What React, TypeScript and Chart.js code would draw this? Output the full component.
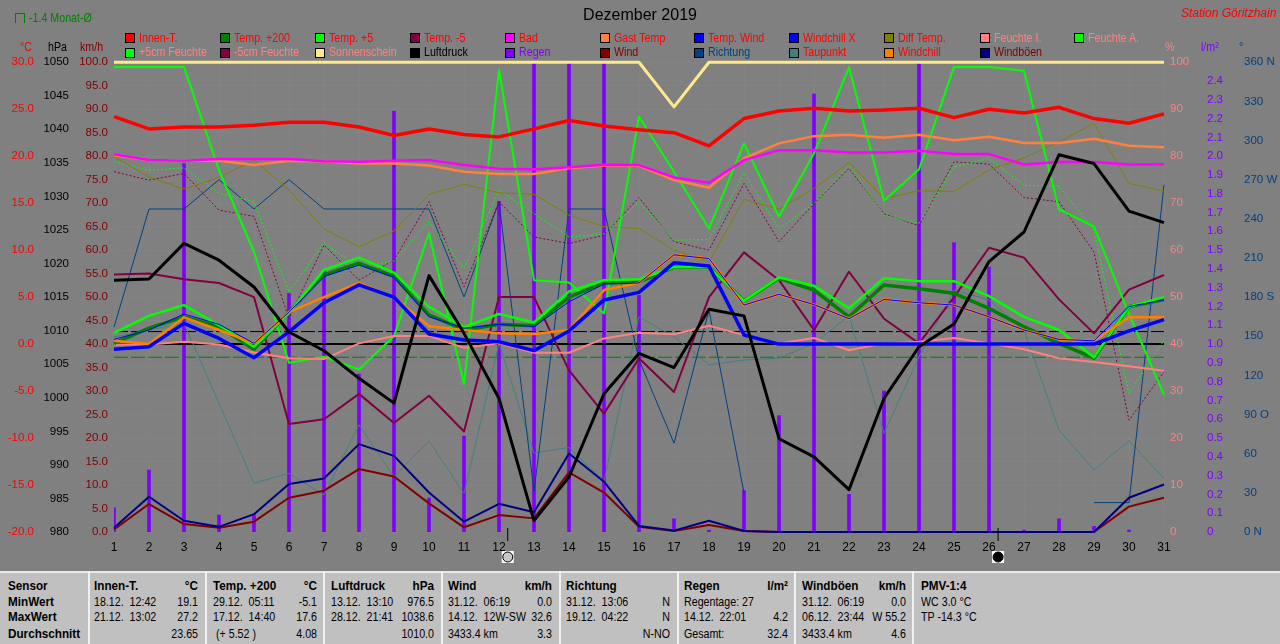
import React, { useEffect, useRef } from "react";
import { Chart, registerables } from "chart.js";

Chart.register(...registerables);

const FONT = '"Liberation Sans", Arial, sans-serif';

const days = ["1","2","3","4","5","6","7","8","9","10","11","12","13","14","15","16","17","18","19","20","21","22","23","24","25","26","27","28","29","30","31"];

const innenT = [24.2,22.9,23.1,23.1,23.3,23.6,23.6,23.1,22.2,22.9,22.3,22.05,22.9,23.8,23.2,22.8,22.5,21.1,24.0,24.8,25.1,24.8,24.9,25.1,24.1,25.0,24.6,25.2,24.0,23.5,24.5];
const temp200 = [0.08,1.7,2.9,1.85,-0.56,3.4,7.35,8.6,7.2,3.1,1.5,2.1,1.95,5.0,6.5,6.6,8.2,8.2,4.6,7,5.75,2.9,6.3,5.9,5.4,3.8,1.85,0.08,-1.5,4,4.75];
const temp5 = [1.2,3,4.15,2,-0.28,3.3,7.9,9.2,7.6,3.97,1.8,3.2,2.3,5.6,6.8,6.9,8.2,8.2,4.6,7.1,6.2,3.8,7,6.7,6.7,5.1,2.9,1.5,-1.4,4,5];
const tempM5 = [7.4,7.5,6.9,6.5,5,-8.5,-8,-5.3,-8.4,-5.5,-9.3,5,5,-2.8,-7.4,-1.5,-5.1,5,9.76,6.8,1.5,7.7,2.7,0.08,5,10.25,9.2,4.76,1.14,5.8,7.35];
const bad = [20.19,19.58,19.5,19.7,19.7,19.7,19.47,19.4,19.5,19.6,19.05,18.65,18.6,18.83,19.08,19.05,17.74,17.16,19.58,20.64,20.64,20.4,20.4,20.57,20.22,20.22,19.12,19.37,19.37,19.12,19.15];
const gastTemp = [20.1,19.58,19.5,19.5,19.05,19.5,19.47,19.23,19.23,19.0,18.33,18.09,18.09,18.7,19.0,18.97,17.45,16.63,19.76,21.36,22.13,22.27,21.95,22.27,21.7,22.06,21.4,21.4,21.85,21.1,20.96];
const tempWind = [0.5,1.5,3.2,2.1,0.08,3.4,7.2,8.4,7.1,2.9,1.7,2.1,1.85,4.5,6.4,6.5,9.5,9.1,4.15,5.3,4.2,2.7,4.75,4.4,4.15,2.9,1.5,0.5,0.35,4,4.7];
const windchillX = [-0.56,-0.28,2.2,0.6,-1.45,1.3,4.4,6.3,5,1.07,0.43,0.25,-0.7,1.4,4.7,5.5,8.65,8.3,0.96,0,0,0,0,0,0,0,0,0,0,1.4,2.6];
const diffTemp = [19.93,17.8,16.5,17.74,19.58,16.4,12.24,10.36,12.03,15.93,17,16.1,15.93,13.73,12.48,12.31,10,8.76,15.4,14.37,16.57,19.33,15.5,16.31,16.25,18.52,19.82,21.53,23.48,17.1,16.28];
const feuchteI = [39.9,39.9,40.5,39.9,38.2,37,36.8,40.15,41.7,41.7,39.2,40.15,38.15,38.15,41.2,42.4,42.1,43.9,41.9,40.15,41.3,38.7,40.15,40.5,41.3,40.15,38.9,37,36.2,35.3,34.3];
const feuchteA = [99,99,99,77,59.6,36,37.3,34.6,41.7,63.6,31.5,98.4,53.6,53.1,46.5,88.4,76.7,64.6,82.7,67.1,80.6,98.9,70.5,77.2,99,99,98.2,68.7,65,46.4,29.2];
const feuchte5cm = [78.8,77,77.5,72.1,70.3,51.1,61.5,56.4,57.7,66,56.1,72.8,67.8,62.8,63.4,70.3,62.1,62.3,76.4,64.6,69.9,78.1,67.4,65.7,77.7,79.5,73.8,73.6,64.3,29.5,40.8];
const feuchteM5cm = [76.7,74.9,76.3,68.5,67.2,45.5,61.1,53.6,57.9,70.3,52.2,70.3,62.8,61.4,63.2,71.2,61.8,60,74.2,61.8,69.9,77.4,67.7,65.2,78.8,78.3,71.2,70.3,59.6,23.8,34.1];
const sonnenschein = [100,100,100,100,100,100,100,100,100,100,100,100,100,100,100,100,90.5,100,100,100,100,100,100,100,100,100,100,100,100,100,100];
const luftdruck = [1017.5,1017.7,1023.0,1020.5,1016.5,1009.8,1007.0,1002.9,999.2,1018.2,1009.6,999.9,981.7,988.2,1000.6,1006.6,1004.5,1013.2,1012.2,993.9,991.2,986.3,999.9,1007.6,1011.0,1020.3,1024.7,1036.2,1034.9,1027.8,1026.1];
const regen = [0.13,0.33,1.96,0.09,0.09,1.27,1.39,0.84,2.24,0.18,0.51,1.76,2.5,2.5,2.5,1.26,0.07,0.01,0.22,0.62,2.33,0.2,0.75,2.5,1.54,1.41,0.01,0.07,0.03,0.01,0];
const wind = [0.57,5.95,1.7,0.9,2.2,7.3,8.8,13.4,11.8,6.1,1.0,3.6,2.9,12.7,8.4,1.1,0.2,1.5,0.2,0,0,0,0,0,0,0,0,0,0,5.4,7.3];
const richtung = [157,247.5,247.5,270,247.5,270,247.5,247.5,247.5,247.5,180,253,31,247.5,247.5,132,68,170,30,null,null,null,null,null,null,null,null,null,22.5,22.5,266];
const taupunkt = [0.75,1.5,2.2,-6.3,-14.8,-13.75,-16.06,-8.6,-14.1,-10.3,-15.9,0.08,-11.6,-11.0,-14.6,2.9,0.78,-2.2,-1.7,-1.5,0.08,3,-9.5,-1.35,5.75,4.7,1.5,-9.15,-13.4,-10.3,-14.3];
const windchill = [0.35,0,2.85,1.5,0.08,3.4,5,6.5,5,1.9,1.5,1.15,1.07,1.5,5.75,6.5,9.5,9.1,4.15,5.3,4.2,2.7,4.75,4.4,4.15,2.9,1.5,0.5,0.35,2.85,2.85];
const windboeen = [0.9,7.5,2.4,1.1,3.8,10.2,11.4,18.7,16.2,8.4,2.2,6.0,4.2,16.7,10.7,1.3,0.3,2.4,0.2,0,0,0,0,0,0,0,0,0,0,7.3,10.1];

const nullLinie = days.map(() => 0);
const plusLinie = days.map(() => 1.33);
const monatMittel = days.map(() => -1.4);

const moonDays = [{ day: 12.25, full: true }, { day: 26.26, full: false }];

const legendRow1 = [
  ["Innen-T.", "#ff0000", "#ff0000"], ["Temp. +200", "#008000", "#ff0000"], ["Temp. +5", "#00ff00", "#ff0000"],
  ["Temp. -5", "#800040", "#ff0000"], ["Bad", "#ff00ff", "#ff0000"], ["Gast Temp", "#ff8040", "#ff0000"],
  ["Temp. Wind", "#0000ff", "#ff0000"], ["Windchill X", "#0000ff", "#ff0000"], ["Diff Temp.", "#808000", "#ff0000"],
  ["Feuchte I.", "#ff8080", "#ff8080"], ["Feuchte A.", "#00ff00", "#ff8080"],
];
const legendRow2 = [
  ["+5cm Feuchte", "#00ff00", "#ff8080"], ["-5cm Feuchte", "#800040", "#ff8080"], ["Sonnenschein", "#ffe98a", "#ff8080"],
  ["Luftdruck", "#000000", "#000000"], ["Regen", "#8000ff", "#8000ff"], ["Wind", "#800000", "#800000"],
  ["Richtung", "#004080", "#004080"], ["Taupunkt", "#408080", "#ff0000"], ["Windchill", "#ff8000", "#ff0000"],
  ["Windböen", "#000080", "#800000"],
];
const legendX = [125, 220, 315, 410, 505, 600, 694, 789, 884, 980, 1074];

const unitHeads = [
  ["°C", 20, "#ff0000"], ["hPa", 48, "#000000"], ["km/h", 80, "#800000"],
  ["%", 1165, "#ff8080"], ["l/m²", 1201, "#8000ff"], ["°", 1239, "#004080"],
];

const tableSeparators = [88, 205, 323, 441, 559, 677, 794, 912];
const tableRowY = [586, 602, 617, 634];
const tableCols = [
  { left: 8, right: 84, head: ["Sensor", ""], rows: [["MinWert", ""], ["MaxWert", ""], ["Durchschnitt", ""]], boldAll: true },
  { left: 94, right: 198, head: ["Innen-T.", "°C"], rows: [["18.12.  12:42", "19.1"], ["21.12.  13:02", "27.2"], ["", "23.65"]] },
  { left: 213, right: 317, head: ["Temp. +200", "°C"], rows: [["29.12.  05:11", "-5.1"], ["17.12.  14:40", "17.6"], [" (+ 5.52 )", "4.08"]] },
  { left: 331, right: 434, head: ["Luftdruck", "hPa"], rows: [["13.12.  13:10", "976.5"], ["28.12.  21:41", "1038.6"], ["", "1010.0"]] },
  { left: 448, right: 552, head: ["Wind", "km/h"], rows: [["31.12.  06:19", "0.0"], ["14.12.  12W-SW", "32.6"], ["3433.4 km", "3.3"]] },
  { left: 566, right: 670, head: ["Richtung", ""], rows: [["31.12.  13:06", "N"], ["19.12.  04:22", "N"], ["", "N-NO"]] },
  { left: 684, right: 788, head: ["Regen", "l/m²"], rows: [["Regentage: 27", ""], ["14.12.  22:01", "4.2"], ["Gesamt:", "32.4"]] },
  { left: 802, right: 906, head: ["Windböen", "km/h"], rows: [["31.12.  06:19", "0.0"], ["06.12.  23:44", "W 55.2"], ["3433.4 km", "4.6"]] },
  { left: 921, right: 1040, head: ["PMV-1:4", ""], rows: [["WC 3.0 °C", ""], ["TP -14.3 °C", ""], ["", ""]] },
];

const fmt1 = (v: any) => Number(v).toFixed(1);
const dirNames: Record<number, string> = { 360: " N", 270: " W", 180: " S", 90: " O", 0: " N" };

function yAxis(position: string, weight: number, width: number, min: number, max: number, step: number, color: string, cb: (v: any) => string, extra: any = {}) {
  return {
    type: "linear", position, weight, min, max,
    grid: { display: false, drawTicks: false },
    border: { display: false },
    ticks: { stepSize: step, color, autoSkip: false, padding: 6, callback: cb, maxRotation: 0, font: { family: FONT, size: 11.5 } },
    afterFit: (s: any) => { s.width = width; },
    ...extra,
  };
}

const moonPlugin = {
  id: "moons",
  afterDraw(chart: any) {
    const c = chart.ctx, x = chart.scales.x;
    moonDays.forEach((m) => {
      const px = x.getPixelForValue(m.day - 1);
      c.save();
      c.strokeStyle = "#000";
      c.lineWidth = 1;
      c.beginPath(); c.moveTo(px, 528); c.lineTo(px, 541); c.stroke();
      c.fillStyle = "#fff";
      c.fillRect(px - 6, 551, 12, 12);
      c.fillStyle = m.full ? "#c8c8c8" : "#000";
      c.strokeStyle = "#000";
      c.beginPath(); c.arc(px, 557, 5, 0, Math.PI * 2); c.fill(); c.stroke();
      c.restore();
    });
  },
};

const line = (label: string, data: any[], color: string, width: number, yAxisID: string, dash?: number[]) => ({
  type: "line", label, data, borderColor: color, backgroundColor: color, borderWidth: width, yAxisID,
  pointRadius: 0, tension: 0, clip: false, borderDash: dash || [], spanGaps: false,
  borderJoinStyle: "round", borderCapStyle: "butt",
});

export default function App() {
  const ref = useRef<HTMLCanvasElement | null>(null);
  useEffect(() => {
    document.body.style.margin = "0";
    document.body.style.background = "#808080";
    const chart = new Chart(ref.current as any, {
      type: "bar",
      plugins: [moonPlugin],
      data: {
        labels: days,
        datasets: [
          line("Sonnenschein", sonnenschein, "#ffe98a", 3, "yP"),
          line("Luftdruck", luftdruck, "#000000", 3, "yH"),
          line("Windchill X", windchillX, "#0000ff", 3.5, "yC"),
          line("Temp. Wind", tempWind, "#0000ff", 1, "yC"),
          line("Windchill", windchill, "#ff8000", 2.5, "yC"),
          line("Temp. +5", temp5, "#00ff00", 2.5, "yC"),
          line("Temp. +200", temp200, "#008000", 3.5, "yC"),
          line("Innen-T.", innenT, "#ff0000", 3.5, "yC"),
          line("Bad", bad, "#ff00ff", 2.5, "yC"),
          line("Gast Temp", gastTemp, "#ff8040", 2.5, "yC"),
          line("Feuchte I.", feuchteI, "#ff8080", 2, "yP"),
          line("Feuchte A.", feuchteA, "#00ff00", 2, "yP"),
          line("Temp. -5", tempM5, "#800040", 2, "yC"),
          line("Windböen", windboeen, "#000080", 2, "yK"),
          line("Wind", wind, "#800000", 2, "yK"),
          line("Diff Temp.", diffTemp, "#808000", 1, "yC"),
          line("+5cm Feuchte", feuchte5cm, "#00ff00", 1, "yP", [2, 2]),
          line("-5cm Feuchte", feuchteM5cm, "#800040", 1, "yP", [2, 2]),
          line("Richtung", richtung, "#004080", 1, "yD"),
          line("Taupunkt", taupunkt, "#408080", 1, "yC"),
          line("Null", nullLinie, "#000000", 2, "yC"),
          line("Plus", plusLinie, "#000000", 1, "yC", [14, 3]),
          line("-1.4 Monat-Ø", monatMittel, "#008000", 1, "yC", [14, 3]),
          { type: "bar", label: "Regen", data: regen, backgroundColor: "#8000ff", barThickness: 3, yAxisID: "yR", borderWidth: 0 },
        ] as any,
      },
      options: {
        responsive: false,
        animation: false,
        devicePixelRatio: 1,
        layout: { padding: 0 },
        plugins: {
          legend: { display: false },
          tooltip: { enabled: false },
          title: {
            display: true, text: "Dezember 2019", color: "#000000",
            font: { family: FONT, size: 16, weight: "normal" },
            padding: { top: 6, bottom: 37 },
          },
        },
        scales: {
          x: {
            type: "category", offset: false,
            grid: { color: "rgba(255,255,255,0.025)", offset: false, drawTicks: false },
            border: { display: false },
            ticks: { color: "#000", autoSkip: false, maxRotation: 0, padding: 8, font: { family: FONT, size: 12 } },
            afterFit: (s: any) => { s.height = 112; },
          },
          yC: yAxis("left", 3, 40, -20, 30, 5, "#ff0000", fmt1),
          yH: yAxis("left", 2, 35, 980, 1050, 5, "#000000", (v) => String(v)),
          yK: yAxis("left", 1, 39, 0, 100, 5, "#800000", fmt1, { grid: { display: true, drawTicks: false, color: "rgba(255,255,255,0.025)" } }),
          yP: yAxis("right", 1, 37, 0, 100, 10, "#ff8080", (v) => String(v)),
          yR: yAxis("right", 2, 37, 0, 2.5, 0.1, "#8000ff", (v) => (Number(v) === 0 ? "0" : Number(v) > 2.45 ? "" : Number(v).toFixed(1))),
          yD: yAxis("right", 3, 42, 0, 360, 30, "#004080", (v) => String(v) + (dirNames[Number(v)] || "")),
        },
      } as any,
    });
    return () => chart.destroy();
  }, []);

  const text = (key: string, t: any, x: number, cy: number, color: string, extra: any = {}) => (
    <div key={key} style={{
      position: "absolute", left: x, top: cy - 8, height: 16, color, font: `13px/16px ${FONT}`, whiteSpace: "pre",
      transform: `scaleX(${extra.fontWeight === "bold" ? 0.9 : 0.82})`, transformOrigin: extra.textAlign === "right" ? "right center" : "left center", ...extra,
    }}>{t}</div>
  );

  return (
    <div style={{ position: "absolute", left: 0, top: 0, width: 1280, height: 644, overflow: "hidden", background: "#808080" }}>
      <canvas ref={ref} width={1280} height={644} style={{ position: "absolute", left: 0, top: 0, width: 1280, height: 644 }} />

      <div style={{ position: "absolute", left: 15, top: 13, width: 10, height: 10, border: "1px solid #008000", borderBottom: "none", boxSizing: "border-box" }} />
      {text("monat", "-1.4 Monat-Ø", 29, 18, "#008000")}
      {text("station", "Station Göritzhain", 1181, 13, "#ff0000", { fontStyle: "italic", fontSize: 12, transform: "none" })}

      {[legendRow1, legendRow2].map((row, r) =>
        row.map((item, i) => (
          <React.Fragment key={`${r}-${i}`}>
            <div style={{ position: "absolute", left: legendX[i], top: r === 0 ? 33 : 48, width: 8, height: 8, background: item[1], border: "1px solid #000", boxSizing: "content-box" }} />
            {text(`l${r}-${i}`, item[0], legendX[i] + 14, r === 0 ? 38 : 52, item[2])}
          </React.Fragment>
        ))
      )}

      {unitHeads.map((u) => text(`u${u[0]}`, u[0], u[1] as number, 47, u[2] as string))}

      <div style={{ position: "absolute", left: 0, top: 571, width: 1280, height: 73, background: "#c0c0c0", borderTop: "2px solid #e8e8e8", boxSizing: "border-box" }} />
      {tableSeparators.map((x) => (
        <div key={x} style={{ position: "absolute", left: x, top: 571, width: 2, height: 73, background: "#f0f0f0" }} />
      ))}
      {tableCols.map((col, c) => (
        <React.Fragment key={c}>
          {text(`h${c}`, col.head[0], col.left, tableRowY[0], "#000", { fontWeight: "bold" })}
          {col.head[1] ? text(`hu${c}`, col.head[1], col.right - 60, tableRowY[0], "#000", { fontWeight: "bold", width: 60, textAlign: "right" }) : null}
          {col.rows.map((row, r) => (
            <React.Fragment key={r}>
              {row[0] ? text(`r${c}-${r}`, row[0], col.left, tableRowY[r + 1], "#000", col.boldAll ? { fontWeight: "bold" } : {}) : null}
              {row[1] ? text(`v${c}-${r}`, row[1], col.right - 60, tableRowY[r + 1], "#000", { width: 60, textAlign: "right" }) : null}
            </React.Fragment>
          ))}
        </React.Fragment>
      ))}
    </div>
  );
}
